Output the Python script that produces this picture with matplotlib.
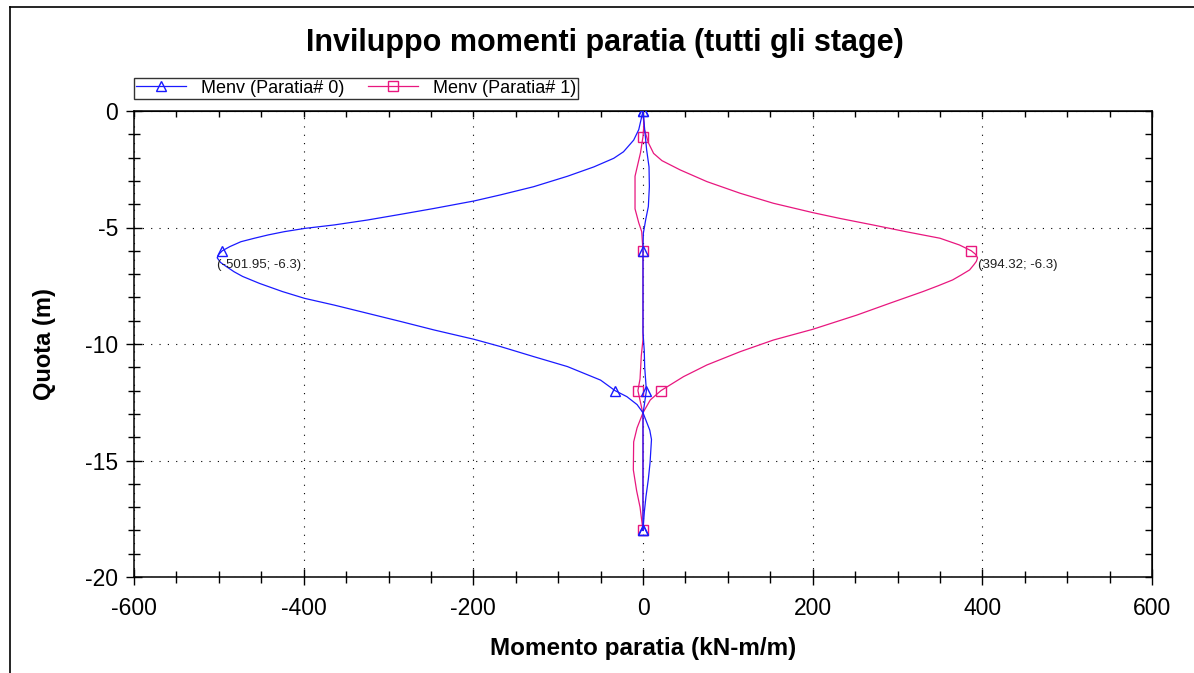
import numpy as np
import matplotlib
matplotlib.use("Agg")
import matplotlib.pyplot as plt
from matplotlib.lines import Line2D
from matplotlib.ticker import MultipleLocator

plt.rcParams['font.family'] = ['Liberation Sans', 'DejaVu Sans']
plt.rcParams['axes.unicode_minus'] = False

# Paratia# 0 : ramo principale (negativo) e ramo secondario (vicino a zero)
p0_main_z = [0, -0.8, -1.25, -1.75, -2.03, -2.4, -2.8, -3.25, -3.6, -3.86, -4.18, -4.43, -4.68,
             -4.89, -5.04, -5.18, -5.32, -5.46, -5.61, -5.82, -6.0, -6.15, -6.3, -6.5, -6.68,
             -6.9, -7.1, -7.4, -7.75, -8.04, -8.33, -8.68, -9.04,
             -9.4, -9.8, -10.11, -10.54, -10.97, -11.55, -12.0, -12.26, -12.6, -12.95, -13.7,
             -14.1, -15.1, -15.8, -16.55, -17.2, -18]
p0_main_m = [0, -5, -11, -23, -34.5, -58, -89, -129, -168, -199, -246, -285, -325,
             -364, -399, -423, -442, -458, -474, -487, -496, -500, -501.95, -498, -491,
             -482, -472, -452, -425, -399, -364, -325, -285,
             -246, -199, -168, -129, -89, -50, -33, -19, -7, 0, 8,
             10, 8.3, 6.3, 3.5, 1.6, 0]
p0_side_z = [0, -0.96, -1.67, -2.4, -3.25, -4.1, -4.68, -5.25, -6, -9.5, -10.3, -11, -12, -12.5, -13, -18]
p0_side_m = [0, 2.4, 4.3, 7.1, 7.5, 6.3, 3.1, 0.4, 0, 0, 1.5, 2, 4, 2, 0, 0]

# Paratia# 1
p1_main_z = [0, -0.8, -1.39, -1.82, -2.13, -2.53, -3.03, -3.53, -3.96, -4.36, -4.61, -4.89, -5.18,
             -5.46, -5.75, -6.0, -6.15, -6.3, -6.45, -6.6, -6.82, -7.04, -7.25, -7.5, -7.75,
             -8.25, -8.76, -9.37, -9.83,
             -10.33, -10.9, -11.4, -12.0, -12.4, -12.95, -13.6, -14.2, -15.4, -16.3, -17.0, -18]
p1_main_m = [0, 1.6, 6.7, 12.5, 22.3, 43.9, 75.3, 114.5, 153.7, 200, 232, 271, 310,
             350, 373, 387, 392, 394.32, 393, 390, 385, 375, 365, 348, 330,
             291, 252, 200, 153.7,
             114.5, 75.3, 47.8, 21.2, 8.6, 0, -7, -11, -11.4, -7.5, -3.5, 0]
p1_side_z = [0, -0.6, -1.1, -1.8, -2.8, -4.2, -4.8, -5.18, -6, -9.8, -10.5, -11.5, -12, -12.5, -13, -18]
p1_side_m = [0, 1, 0, -3, -9.4, -9.4, -5, -1.5, 0, 0, -2, -3.5, -6, -3, 0, 0]

p0_marks = [0, -6, -12, -18]
p1_marks_main = [-6, -12]
p1_marks_side = [-1.1, -6, -12, -18]

peak_m = [-501.95, 394.32]
peak_z = [-6.3, -6.3]

labels = ["Menv (Paratia# 0)", "Menv (Paratia# 1)"]
BLUE = "#1a1aff"
PINK = "#e8177f"


def marks_idx(zs, marks):
    return [i for i, z in enumerate(zs) if z in marks]


fig = plt.figure(figsize=(11.94, 6.73), dpi=100)
ax = fig.add_axes([134 / 1194, 1 - 577 / 673, (1152 - 134) / 1194, (577 - 111) / 673])

ax.plot(p1_side_m, p1_side_z, color=PINK, lw=0.9, marker="s", ms=7, mfc="none", mew=1,
        markevery=marks_idx(p1_side_z, p1_marks_side), zorder=2)
ax.plot(p1_main_m, p1_main_z, color=PINK, lw=0.9, marker="s", ms=7, mfc="none", mew=1,
        markevery=marks_idx(p1_main_z, p1_marks_main), zorder=2)
ax.plot(p0_side_m, p0_side_z, color=BLUE, lw=0.9, marker="^", ms=7, mfc="none", mew=1,
        markevery=marks_idx(p0_side_z, p0_marks), zorder=3)
ax.plot(p0_main_m, p0_main_z, color=BLUE, lw=0.9, marker="^", ms=7, mfc="none", mew=1,
        markevery=marks_idx(p0_main_z, p0_marks), zorder=3)

for m, z in zip(peak_m, peak_z):
    ax.annotate("(%.2f; %.1f)" % (m, z), xy=(m, z), xytext=(0, -1), textcoords="offset points",
                ha="left", va="top", fontsize=9.5, color="#202020", zorder=4)

ax.set_xlim(-600, 600)
ax.set_ylim(-20, 0)
ax.xaxis.set_major_locator(MultipleLocator(200))
ax.xaxis.set_minor_locator(MultipleLocator(50))
ax.yaxis.set_major_locator(MultipleLocator(5))
ax.yaxis.set_minor_locator(MultipleLocator(1))
ax.tick_params(which="both", direction="inout", top=False, right=False, width=1.0,
               labelsize=16.5, colors="black")
ax.tick_params(which="major", length=11)
ax.tick_params(which="minor", length=8)
ax.tick_params(axis="x", pad=9)
ax.tick_params(axis="y", pad=6)
ax.grid(which="major", color="black", lw=0.8, linestyle=(0, (1, 6.5)))
for s in ax.spines.values():
    s.set_linewidth(1.1)

secx = ax.secondary_xaxis("top")
secx.xaxis.set_major_locator(MultipleLocator(50))
secx.tick_params(direction="in", length=4, width=1.0, labeltop=False)
secy = ax.secondary_yaxis("right")
secy.yaxis.set_major_locator(MultipleLocator(1))
secy.tick_params(direction="in", length=5, width=1.0, labelright=False)

fig.text(605 / 1194, 1 - 43 / 673, "Inviluppo momenti paratia (tutti gli stage)",
         ha="center", va="center", fontsize=22, fontweight="bold")
ax.set_xlabel("Momento paratia (kN-m/m)", fontsize=17.5, fontweight="bold", labelpad=12)
ax.set_ylabel("Quota (m)", fontsize=17, fontweight="bold", labelpad=21)

handles = [Line2D([], [], color=BLUE, lw=0.9, marker="^", ms=7, mfc="none"),
           Line2D([], [], color=PINK, lw=0.9, marker="s", ms=7, mfc="none")]
leg = fig.legend(handles, labels, loc="upper left", bbox_to_anchor=(134 / 1194, 1 - 78 / 673),
                 ncol=2, fontsize=13, frameon=True, fancybox=False, borderpad=0.1,
                 handlelength=2.8, handletextpad=0.8, columnspacing=1.3, borderaxespad=0)
leg.get_frame().set_edgecolor("black")
leg.get_frame().set_linewidth(1.0)

fig.add_artist(Line2D([10 / 1194, 1], [1 - 7 / 673, 1 - 7 / 673], transform=fig.transFigure,
                      color="black", lw=1.2))
fig.add_artist(Line2D([10 / 1194, 10 / 1194], [0, 1 - 7 / 673], transform=fig.transFigure,
                      color="black", lw=1.2))

fig.savefig("out.png", dpi=100)
